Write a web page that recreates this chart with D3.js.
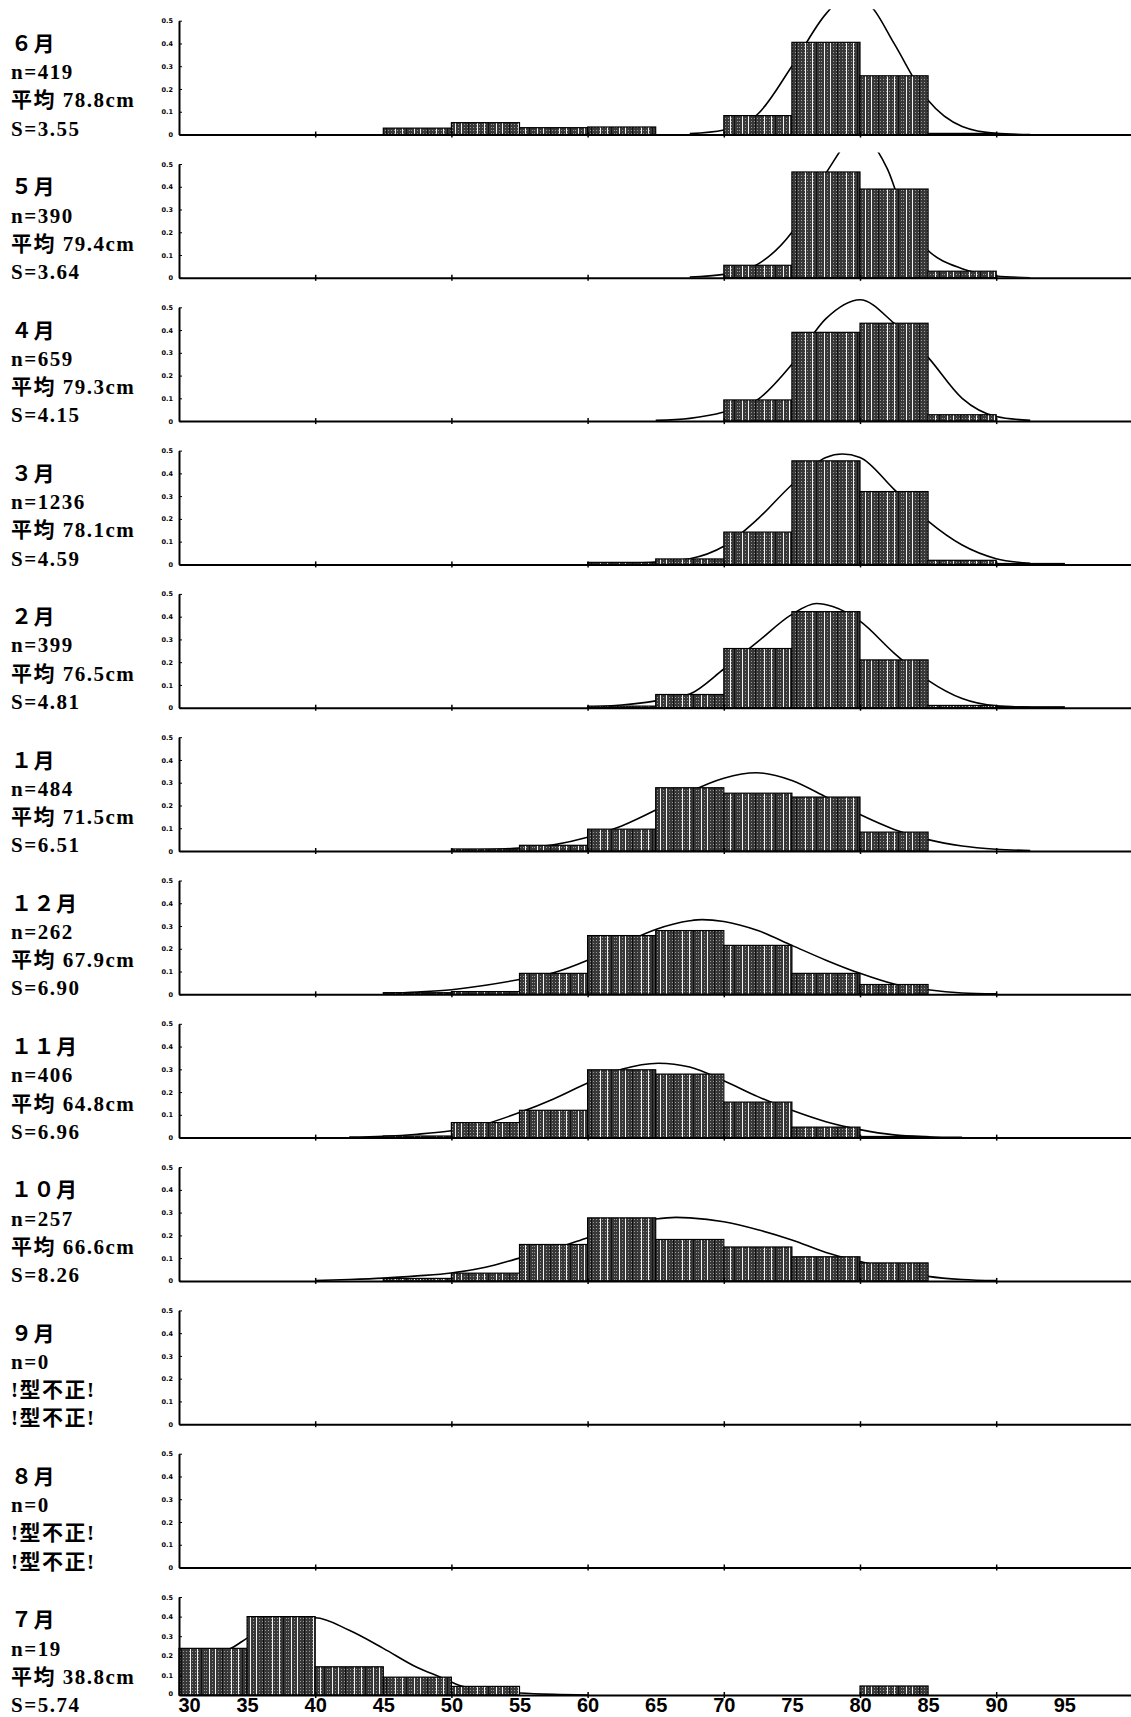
<!DOCTYPE html>
<html>
<head>
<meta charset="utf-8">
<script src="https://cdn.jsdelivr.net/npm/d3@7"></script>
<style>
  body { margin: 0; background: #fff; }
  svg { display: block; }
  .lab { font-family: "Liberation Serif", "Noto Sans CJK JP", serif; font-size: 21px; font-weight: bold; letter-spacing: 1.5px; }
  .yaxis text { font-family: "DejaVu Sans", sans-serif; font-size: 6.5px; font-weight: bold; }
  .xlab text { font-family: "Liberation Sans Narrow", "Liberation Sans", sans-serif; font-size: 20px; font-weight: bold; }
</style>
</head>
<body>
<svg id="chart" width="1131" height="1717"></svg>
<script>
// panels top to bottom
const months = ['６月', '５月', '４月', '３月', '２月', '１月', '１２月', '１１月', '１０月', '９月', '８月', '７月'];
const counts = [419, 390, 659, 1236, 399, 484, 262, 406, 257, 0, 0, 19];
const means = ['78.8', '79.4', '79.3', '78.1', '76.5', '71.5', '67.9', '64.8', '66.6', null, null, '38.8'];
const sds = ['3.55', '3.64', '4.15', '4.59', '4.81', '6.51', '6.90', '6.96', '8.26', null, null, '5.74'];

const bins = [30, 35, 40, 45, 50, 55, 60, 65, 70, 75, 80, 85, 90];
const xTickLabels = [30, 35, 40, 45, 50, 55, 60, 65, 70, 75, 80, 85, 90, 95];
const yTicks = [0, 0.1, 0.2, 0.3, 0.4, 0.5];

// share of fish per 5cm class
const bar6 = [0, 0, 0, 0.028, 0.052, 0.03, 0.033, 0, 0.083, 0.405, 0.258, 0.005, 0];
const bar5 = [0, 0, 0, 0, 0, 0, 0, 0, 0.055, 0.465, 0.39, 0.029, 0];
const bar4 = [0, 0, 0, 0, 0, 0, 0, 0, 0.093, 0.39, 0.43, 0.028, 0];
const bar3 = [0, 0, 0, 0, 0, 0, 0.009, 0.024, 0.142, 0.455, 0.32, 0.018, 0.004];
const bar2 = [0, 0, 0, 0, 0, 0, 0.007, 0.058, 0.26, 0.422, 0.21, 0.01, 0.004];
const bar1 = [0, 0, 0, 0, 0.009, 0.025, 0.096, 0.278, 0.254, 0.237, 0.083, 0, 0];
const bar12 = [0, 0, 0, 0.007, 0.012, 0.092, 0.258, 0.28, 0.215, 0.092, 0.043, 0, 0];
const bar11 = [0, 0, 0, 0.007, 0.066, 0.12, 0.298, 0.279, 0.156, 0.046, 0.005, 0, 0];
const bar10 = [0, 0, 0, 0.011, 0.034, 0.16, 0.277, 0.182, 0.149, 0.106, 0.079, 0, 0];
const bar7 = [0.238, 0.40, 0.144, 0.091, 0.044, 0, 0, 0, 0, 0, 0.046, 0, 0];

// fitted curves as [cm, share]
const fit6 = [[67.5, 0.004], [70, 0.02], [72.5, 0.09], [75, 0.30], [77.5, 0.53], [79.3, 0.62], [81, 0.55], [82.5, 0.40], [85, 0.15], [87.5, 0.035], [90, 0.005], [92.5, 0]];
const fit5 = [[67.5, 0.003], [70, 0.015], [72.5, 0.06], [75, 0.20], [77.5, 0.46], [79.9, 0.63], [82, 0.48], [83.6, 0.22], [85, 0.12], [87.5, 0.04], [90, 0.008], [92.5, 0]];
const fit4 = [[65, 0.003], [67.5, 0.012], [70, 0.04], [72.5, 0.095], [75, 0.25], [77.5, 0.45], [80, 0.533], [82.5, 0.43], [85, 0.28], [87.5, 0.10], [90, 0.02], [92.5, 0.003]];
const fit3 = [[62.5, 0.004], [65, 0.01], [67.5, 0.025], [70, 0.08], [72.5, 0.20], [75, 0.35], [77.5, 0.47], [78.7, 0.485], [80, 0.47], [82.5, 0.33], [85, 0.19], [87.5, 0.085], [90, 0.025], [92.5, 0.005]];
const fit2 = [[60, 0.003], [62.5, 0.012], [65, 0.03], [67.5, 0.06], [70, 0.17], [72.5, 0.29], [75, 0.41], [76.8, 0.458], [78, 0.445], [80, 0.38], [82.5, 0.24], [85, 0.12], [87.5, 0.04], [90, 0.008], [92.5, 0.002]];
const fit1 = [[50, 0.002], [52.5, 0.006], [55, 0.013], [57.5, 0.027], [60, 0.06], [62.5, 0.11], [65, 0.18], [67.5, 0.26], [70, 0.32], [72.4, 0.344], [75, 0.31], [77.5, 0.237], [80, 0.16], [82.5, 0.095], [85, 0.05], [87.5, 0.022], [90, 0.008], [92.5, 0.002]];
const fit12 = [[45, 0.004], [47.5, 0.01], [50, 0.02], [52.5, 0.04], [55, 0.065], [57.5, 0.095], [60, 0.15], [62.5, 0.22], [65, 0.285], [67.5, 0.323], [68.4, 0.328], [70, 0.32], [72.5, 0.28], [75, 0.215], [77.5, 0.15], [80, 0.092], [82.5, 0.045], [85, 0.02], [87.5, 0.006], [90, 0.002]];
const fit11 = [[42.5, 0.002], [45, 0.006], [47.5, 0.015], [50, 0.03], [52.5, 0.06], [55, 0.11], [57.5, 0.17], [60, 0.24], [62.5, 0.30], [65.2, 0.327], [67.5, 0.31], [70, 0.25], [72.5, 0.18], [75, 0.12], [77.5, 0.07], [80, 0.035], [82.5, 0.012], [85, 0.004], [87.5, 0.001]];
const fit10 = [[40, 0.002], [42.5, 0.006], [45, 0.012], [47.5, 0.022], [50, 0.035], [52.5, 0.06], [55, 0.10], [57.5, 0.14], [60, 0.19], [62.5, 0.24], [65, 0.272], [66.5, 0.279], [67.5, 0.277], [70, 0.26], [72.5, 0.225], [75, 0.18], [77.5, 0.125], [80, 0.085], [82.5, 0.05], [85, 0.02], [87.5, 0.006], [90, 0.001]];
const fit7 = [[30, 0.12], [32.5, 0.20], [34, 0.245], [35, 0.29], [37.5, 0.37], [40, 0.394], [42.5, 0.33], [45, 0.238], [47.5, 0.14], [49.2, 0.091], [50.8, 0.044], [52.5, 0.025], [55, 0.01], [57.5, 0.003], [60, 0]];

const bars = [bar6, bar5, bar4, bar3, bar2, bar1, bar12, bar11, bar10, null, null, bar7];
const fits = [fit6, fit5, fit4, fit3, fit2, fit1, fit12, fit11, fit10, null, null, fit7];

const svg = d3.select('#chart');
const defs = svg.append('defs');

// scanned halftone look for the bars
const dots = defs.append('pattern')
  .attr('id', 'dots').attr('width', 3).attr('height', 3)
  .attr('patternUnits', 'userSpaceOnUse');
dots.append('rect').attr('width', 3).attr('height', 3).attr('fill', '#383838');
dots.append('rect').attr('x', 1).attr('y', 1).attr('width', 1).attr('height', 1).attr('fill', '#9a9a9a');

const stripes = defs.append('pattern')
  .attr('id', 'barFill').attr('width', 41).attr('height', 6)
  .attr('patternUnits', 'userSpaceOnUse');
stripes.append('rect').attr('width', 41).attr('height', 6).attr('fill', 'url(#dots)');
[4, 10, 17, 26, 33, 37].forEach((sx, k) => {
  stripes.append('rect')
    .attr('x', sx).attr('width', 1).attr('height', 6)
    .attr('fill', k % 3 === 2 ? '#111' : '#f4f4f4');
});

const x = d3.scaleLinear().domain([30, 100]).range([179, 1132.4]);
const step = 143.3;

months.forEach((month, i) => {
  const top = 20.7 + i * step;
  const base = i === 11 ? 1695 : top + 113.8;
  const y = d3.scaleLinear().domain([0, 0.5]).range([base, top]);
  const g = svg.append('g');

  // left caption
  const ty = 51 + i * step;
  const lines = [month, `n=${counts[i]}`,
    means[i] ? `平均 ${means[i]}cm` : '!型不正!',
    sds[i] ? `S=${sds[i]}` : '!型不正!'];
  lines.forEach((t, k) => {
    g.append('text').attr('class', 'lab')
      .attr('x', 11).attr('y', ty + k * 28.2)
      .text(t);
  });

  g.append('clipPath').attr('id', `clip${i}`)
    .append('rect')
    .attr('x', x(30)).attr('y', y(0.55))
    .attr('width', x(100) - x(30)).attr('height', base - y(0.55));

  if (fits[i]) {
    const line = d3.line()
      .x(d => x(d[0]))
      .y(d => y(d[1]))
      .curve(d3.curveMonotoneX);
    g.append('path')
      .attr('clip-path', `url(#clip${i})`)
      .attr('d', line(fits[i]))
      .attr('fill', 'none')
      .attr('stroke', '#000')
      .attr('stroke-width', 1.6);
  }

  if (bars[i]) {
    g.selectAll('rect.bar')
      .data(bars[i].map((v, k) => ({ start: bins[k], v })).filter(d => d.v > 0))
      .join('rect')
      .attr('class', 'bar')
      .attr('x', d => x(d.start))
      .attr('y', d => y(d.v))
      .attr('width', d => x(d.start + 5) - x(d.start))
      .attr('height', d => base - y(d.v))
      .attr('fill', 'url(#barFill)')
      .attr('stroke', '#000')
      .attr('stroke-width', 1.2);
  }

  // x axis line with small crossing ticks every 10cm
  const xa = g.append('g')
    .attr('transform', `translate(0,${base})`)
    .call(d3.axisBottom(x).tickValues([40, 50, 60, 70, 80, 90]).tickSizeInner(3).tickSizeOuter(0).tickFormat(''));
  xa.select('.domain').attr('stroke-width', 2);
  xa.selectAll('.tick line').attr('y1', -3).attr('stroke-width', 1.5);

  const ya = g.append('g').attr('class', 'yaxis')
    .attr('transform', `translate(${x(30)},0)`)
    .call(d3.axisLeft(y).tickValues(yTicks).tickSizeInner(-3).tickSizeOuter(0).tickPadding(6)
      .tickFormat(d => d === 0 ? '0' : d3.format('.1f')(d)));
  ya.select('.domain').attr('stroke-width', 2);

  if (i === 11) {
    ya.selectAll('.tick text').filter(d => d === 0).attr('dy', '0.1em');
    const xl = g.append('g').attr('class', 'xlab')
      .attr('transform', `translate(0,${base})`)
      .call(d3.axisBottom(x).tickValues(xTickLabels).tickSize(0).tickPadding(3));
    xl.select('.domain').remove();
    xl.selectAll('.tick text').filter(d => d === 30).attr('text-anchor', 'start').attr('dx', -1);
  }
});
</script>
</body>
</html>
